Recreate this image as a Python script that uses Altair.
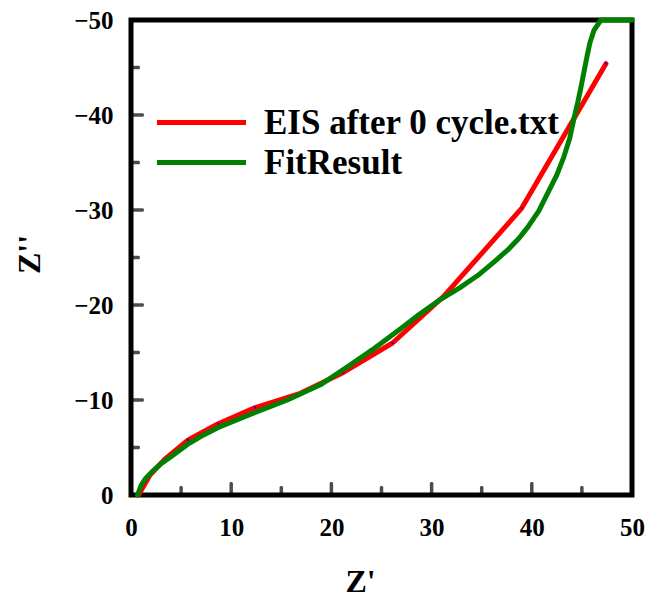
import altair as alt
import pandas as pd

# Measured data (EIS after 0 cycle)
eis_x = [0.75, 1.9, 3.4, 5.7, 8.7, 12.4, 16.9, 21.2, 26.1, 31.2, 39.0, 47.4]
eis_y = [0.0, -2.1, -3.8, -5.8, -7.5, -9.2, -10.7, -12.9, -16.0, -20.9, -30.2, -45.4]

# Fit result
fit_x = [0.65, 1.0, 1.5, 2.25, 3.0, 3.95, 5.6, 7.2, 8.9, 12.2, 15.6, 18.9, 21.6, 24.1, 26.9, 28.5,
         30.9, 32.8, 34.6, 36.3, 37.6, 38.7, 39.6, 40.7, 41.6, 42.5, 43.2, 43.8, 44.2, 44.6,
         44.9, 45.2, 45.5, 45.8, 46.2, 46.9, 50.0]
fit_y = [0.0, -1.0, -1.8, -2.6, -3.3, -4.0, -5.3, -6.3, -7.2, -8.6, -10.0, -11.6, -13.5, -15.3,
         -17.5, -18.8, -20.6, -21.8, -23.1, -24.6, -25.8, -27.0, -28.2, -29.9, -31.8, -33.7,
         -35.6, -37.6, -39.6, -41.4, -42.9, -44.5, -46.1, -47.6, -48.9, -50.0, -50.0]

series_names = ["EIS after 0 cycle.txt", "FitResult"]
series_colors = ["#ff0000", "#008000"]

x_major = [10, 20, 30, 40]
x_minor = [5, 15, 25, 35, 45]
y_major = [-10, -20, -30, -40]
y_minor = [-5, -15, -25, -35, -45]
x_labels = [0, 10, 20, 30, 40, 50]
y_labels = [0, -10, -20, -30, -40, -50]

W, H = 501, 475
FONT = "Liberation Serif"

eis = pd.DataFrame({"x": eis_x, "y": eis_y, "s": series_names[0], "o": range(len(eis_x))})
fit = pd.DataFrame({"x": fit_x, "y": fit_y, "s": series_names[1], "o": range(len(fit_x))})
lines = pd.concat([eis, fit], ignore_index=True)

xs = alt.Scale(domain=[0, 50], nice=False, zero=False)
ys = alt.Scale(domain=[0, -50], nice=False, zero=False)

xaxis = alt.Axis(values=x_labels, ticks=False, tickSize=0, domain=False, grid=False,
                 labelFont=FONT, labelFontWeight="bold", labelFontSize=25, labelColor="black",
                 labelPadding=20, labelFlush=False,
                 title="Z'", titleFont=FONT, titleFontWeight="bold", titleFontSize=32,
                 titleColor="black", titleX=229, titleY=96, titleBaseline="alphabetic",
                 titleAlign="center")
yaxis = alt.Axis(values=y_labels, ticks=False, tickSize=0, domain=False, grid=False,
                 labelFont=FONT, labelFontWeight="bold", labelFontSize=25, labelColor="black",
                 labelPadding=18, labelFlush=False, labelBaseline="middle",
                 title="Z''", titleFont=FONT, titleFontWeight="bold", titleFontSize=32,
                 titleColor="black", titleX=-92, titleY=234, titleBaseline="alphabetic",
                 titleAlign="center", titleAngle=270)

color = alt.Color("s:N", scale=alt.Scale(domain=series_names, range=series_colors),
                  legend=alt.Legend(title=None, orient="none", legendX=53, legendY=85,
                                    symbolType="M-4,0H4", symbolSize=495,
                                    symbolStrokeWidth=5, labelOffset=45,
                                    labelFont=FONT, labelFontWeight="bold",
                                    labelFontSize=35, labelColor="black",
                                    rowPadding=4, padding=0, labelLimit=400))

line_layer = alt.Chart(lines).mark_line(strokeWidth=5, strokeCap="round", strokeJoin="round").encode(
    x=alt.X("x:Q", scale=xs, axis=xaxis),
    y=alt.Y("y:Q", scale=ys, axis=yaxis),
    color=color,
    order="o:Q",
    detail="s:N",
)

dots = alt.Chart(eis).mark_point(filled=True, color="#0000ff", size=5, opacity=1).encode(
    x=alt.X("x:Q", scale=xs), y=alt.Y("y:Q", scale=ys))

def xticks(vals, length):
    return alt.Chart(pd.DataFrame({"t": vals})).mark_tick(
        orient="vertical", size=length, thickness=3.5, color="black",
        yOffset=-length / 2, cornerRadius=1.5).encode(
        x=alt.X("t:Q", scale=xs), y=alt.value(H))

def yticks(vals, length):
    return alt.Chart(pd.DataFrame({"t": vals})).mark_tick(
        orient="horizontal", size=length, thickness=3.5, color="black",
        xOffset=length / 2, cornerRadius=1.5).encode(
        y=alt.Y("t:Q", scale=ys), x=alt.value(0))

chart = alt.layer(
    xticks(x_major, 13), xticks(x_minor, 9), yticks(y_major, 13), yticks(y_minor, 9),
    line_layer.transform_filter(alt.datum.s == series_names[0]),
    dots,
    line_layer.transform_filter(alt.datum.s == series_names[1]),
).properties(
    width=W, height=H,
    autosize=alt.AutoSizeParams(type="none"),
    padding={"left": 131, "top": 20, "right": 19, "bottom": 105},
    background="white",
).configure_view(stroke="black", strokeWidth=5)

chart.save("out.html", embed_options={"renderer": "svg", "actions": False})
